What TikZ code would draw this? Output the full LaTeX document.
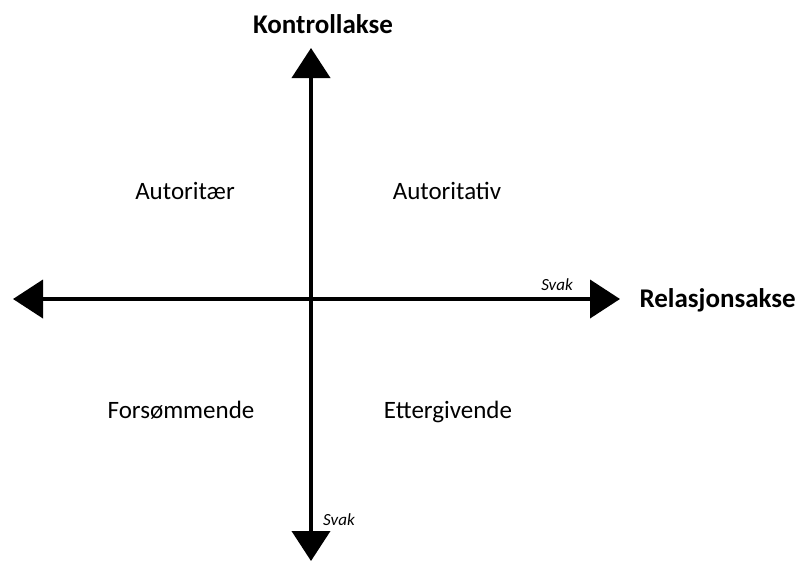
\documentclass[tikz,border=0pt]{standalone}
\usepackage{fontspec}
\setmainfont{Carlito}
\usetikzlibrary{arrows.meta,positioning}

\begin{document}
\begin{tikzpicture}[
    x=1pt, y=-1pt,
    axis/.style={{Triangle[length=30pt,width=38pt]}-{Triangle[length=30pt,width=38pt]}, line width=4pt, line join=round},
    title/.style={font=\bfseries\fontsize{27}{32}\selectfont, anchor=base},
    style/.style={font=\fontsize{25}{30}\selectfont, anchor=base},
    weak/.style={font=\itshape\fontsize{17}{20}\selectfont, anchor=base}
]
    \useasboundingbox (0,0) rectangle (799,563);

    \coordinate (top) at (311,48);
    \coordinate (bottom) at (311,561);
    \coordinate (left) at (13,299);
    \coordinate (right) at (620,299);

    \draw[axis] (bottom) -- (top);
    \draw[axis] (left) -- (right);

    \node[title] (control) at (323,33) {Kontrollakse};
    \node[title, anchor=base west] (relation) at (636,307) {Relasjonsakse};

    \node[style] (authoritarian) at (185,199) {Autoritær};
    \node[style] (authoritative) at (447,199) {Autoritativ};
    \node[style] (neglectful) at (181,418) {Forsømmende};
    \node[style] (permissive) at (448,418) {Ettergivende};

    \node[weak] (weakx) at (557,290) {Svak};
    \node[weak] (weaky) at (339,525) {Svak};
\end{tikzpicture}
\end{document}
